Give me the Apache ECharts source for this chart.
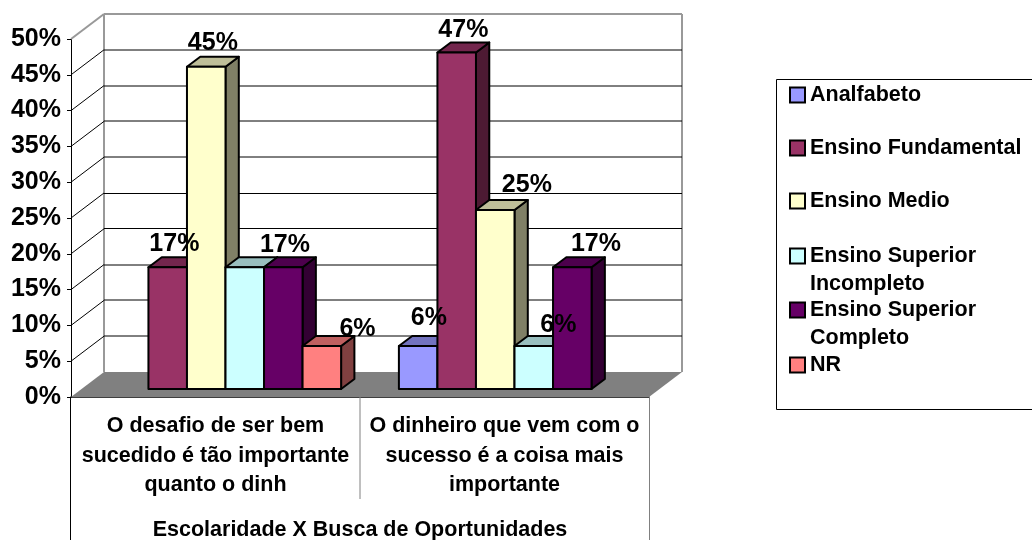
<!DOCTYPE html>
<html>
<head>
<meta charset="utf-8">
<style>html,body{margin:0;background:#fff}#root{width:1032px;height:540px}</style>
<script src="https://cdn.jsdelivr.net/npm/echarts@6/dist/echarts.min.js"></script>
</head>
<body>
<div id="root"></div>
<script>
// data
var categories = ['O desafio de ser bem\nsucedido é tão importante\nquanto o dinh', 'O dinheiro que vem com o\nsucesso é a coisa mais\nimportante'];
var seriesNames = ['Analfabeto', 'Ensino Fundamental', 'Ensino Medio', 'Ensino Superior Incompleto', 'Ensino Superior Completo', 'NR'];
var analfabeto = [null, 6];
var fundamental = [17, 47];
var medio = [45, 25];
var incompleto = [17, 6];
var completo = [17, 17];
var nr = [6, null];
var yTicks = [0, 5, 10, 15, 20, 25, 30, 35, 40, 45, 50];

var seriesValues = [analfabeto, fundamental, medio, incompleto, completo, nr];
var colors = ['#9999FF', '#993366', '#FFFFCC', '#CCFFFF', '#660066', '#FF8080'];

// labels were dragged by hand in the original, so each has its own nudge ([dx, dy], null = no label)
var labelNudge = [
    [null, [4, -5]],
    [[0, 0], [0, 1]],
    [[0, -1], [25, -2]],
    [null, [18, 2]],
    [[-5, 1], [17, 0]],
    [[29, 6], null]
];

var legendRows = [95, 148, 201, 256, 310, 365];
var legendLine = 28;
var bold = 'bold 25px "Liberation Sans", Arial, sans-serif';

// wall depth and bar depth in pixels
var wallDx = 33, wallDy = 25;
var barInX = 10, barInY = 8;
var barDx = 13.3, barDy = 10;
var crispTicks = [20, 25];

function shade(hex, k) {
    var n = parseInt(hex.slice(1), 16);
    var r = Math.round((n >> 16 & 255) * k), g = Math.round((n >> 8 & 255) * k), b = Math.round((n & 255) * k);
    return 'rgb(' + r + ',' + g + ',' + b + ')';
}

function line(x1, y1, x2, y2, color, width) {
    return {type: 'line', shape: {x1: x1, y1: y1, x2: x2, y2: y2}, style: {stroke: color, lineWidth: width}, silent: true};
}

function renderWall(params, api) {
    var cs = params.coordSys;
    var left = cs.x, right = cs.x + cs.width;
    var tick = api.value(1);
    var y = api.coord([0, tick])[1];
    var backY = y - wallDy;
    var kids = [];
    var wallGray = '#999999';
    if (tick === 0) {
        kids.push({type: 'polygon', shape: {points: [[left, y], [left + wallDx, backY], [right + wallDx, backY], [right, y]]}, style: {fill: '#808080'}});
        kids.push(line(left + wallDx, cs.y - wallDy, left + wallDx, backY, wallGray, 2));
        kids.push(line(right + wallDx, cs.y - wallDy, right + wallDx, backY, wallGray, 2));
        kids.push(line(left - 0.5, y, left - 0.5, 540, '#000', 1));
        kids.push(line(right + 0.5, y, right + 0.5, 540, '#808080', 1));
        kids.push(line((left + right) / 2, y, (left + right) / 2, y + 102, '#808080', 1));
    } else if (tick === yTicks[yTicks.length - 1]) {
        kids.push(line(left + wallDx, backY, right + wallDx, backY, wallGray, 2));
        kids.push(line(left, y, left + wallDx, backY, wallGray, 2));
    } else {
        var gy = crispTicks.indexOf(tick) >= 0 ? Math.floor(backY) + 0.5 : Math.round(backY);
        kids.push(line(left + wallDx, gy, right + wallDx, gy, '#000', 1));
        kids.push(line(left, y, left + wallDx, backY, '#000', 1));
    }
    return {type: 'group', children: kids};
}

function renderBar(params, api) {
    var s = params.seriesIndex - 1;
    var cat = api.value(0);
    var val = api.value(1);
    var catW = api.size([1, 0])[0];
    var w = catW / 7.5;
    var x = api.coord([cat, 0])[0] + (s - 3) * w + barInX;
    var bottom = api.coord([cat, 0])[1] - barInY;
    var top = api.coord([cat, val])[1] - barInY;
    var c = colors[s];
    var edge = {stroke: '#000', lineWidth: 2, lineJoin: 'round'};
    var kids = [
        {type: 'polygon', shape: {points: [[x + w, bottom], [x + w + barDx, bottom - barDy], [x + w + barDx, top - barDy], [x + w, top]]}, style: Object.assign({fill: shade(c, 0.5)}, edge)},
        {type: 'polygon', shape: {points: [[x, top], [x + barDx, top - barDy], [x + w + barDx, top - barDy], [x + w, top]]}, style: Object.assign({fill: shade(c, 0.75)}, edge)},
        {type: 'rect', shape: {x: x, y: top, width: w, height: bottom - top}, style: Object.assign({fill: c}, edge)}
    ];
    var nudge = labelNudge[s][cat];
    if (nudge) {
        // z2 keeps the labels above every bar
        kids.push({type: 'text', z2: 100, style: {
            text: val + '%', x: x + w / 2 + barDx / 2 + nudge[0], y: top - 23 + nudge[1],
            font: bold, fill: '#000', textAlign: 'center', textVerticalAlign: 'middle'
        }});
    }
    return {type: 'group', children: kids};
}

var series = [{
    type: 'custom', name: 'wall', silent: true, renderItem: renderWall,
    encode: {x: 0, y: 1},
    data: yTicks.map(function (t) { return [0, t]; })
}];
seriesNames.forEach(function (name, i) {
    series.push({
        type: 'custom', name: name, renderItem: renderBar, silent: true,
        itemStyle: {color: colors[i]},
        encode: {x: 0, y: 1},
        data: seriesValues[i].map(function (v, c) { return v === null ? null : [c, v]; }).filter(Boolean)
    });
});

// one legend per row: the rows have an even pitch even when a name wraps on two lines.
// a blank first line keeps the icon level with the first line of a wrapped name
var legends = seriesNames.map(function (name, i) {
    var wrap = name.indexOf('Ensino Superior') === 0;
    return {
        data: [name], selectedMode: false, icon: 'rect', orient: 'vertical',
        left: 789, top: legendRows[i] - (wrap ? legendLine * 1.5 : legendLine / 2),
        padding: 0, itemWidth: 15, itemHeight: 15, itemGap: 0,
        itemStyle: {borderColor: '#000', borderWidth: 2},
        formatter: function (n) { return wrap ? '\u00a0\n' + n.replace('Superior ', 'Superior\n') : n; },
        textStyle: {
            fontFamily: '"Liberation Sans"', fontWeight: 'bold', fontSize: 21.5, color: '#000',
            lineHeight: legendLine
        }
    };
});

var myCharts = echarts.init(document.getElementById('root'));
var option = {
    animation: false,
    backgroundColor: '#fff',
    grid: {left: 71, right: 383, top: 39, bottom: 143, outerBoundsMode: 'none'},
    legend: legends,
    xAxis: {
        type: 'category', data: categories,
        name: 'Escolaridade X Busca de Oportunidades', nameLocation: 'middle', nameGap: 122,
        nameTextStyle: {fontFamily: '"Liberation Sans"', fontWeight: 'bold', fontSize: 21.5, color: '#000'},
        axisLine: {lineStyle: {color: '#000', width: 1.5}},
        axisTick: {show: false},
        axisLabel: {interval: 0, margin: 14.5, color: '#000', fontFamily: '"Liberation Sans"', fontWeight: 'bold', fontSize: 21.5, lineHeight: 29.5, align: 'center'}
    },
    yAxis: {
        type: 'value', min: 0, max: 50, interval: 5,
        axisLine: {show: true, lineStyle: {color: '#000', width: 1}},
        axisTick: {show: true, length: 4, lineStyle: {color: '#000'}},
        splitLine: {show: false},
        axisLabel: {margin: 10, color: '#000', fontFamily: '"Liberation Sans"', fontWeight: 'bold', fontSize: 25, formatter: '{value}%'}
    },
    graphic: [{
        type: 'polyline', silent: true,
        shape: {points: [[1032, 79.5], [776.5, 79.5], [776.5, 409.5], [1032, 409.5]]},
        style: {stroke: '#000', lineWidth: 1, fill: null}
    }],
    series: series
};
myCharts.setOption(option);
</script>
</body>
</html>
